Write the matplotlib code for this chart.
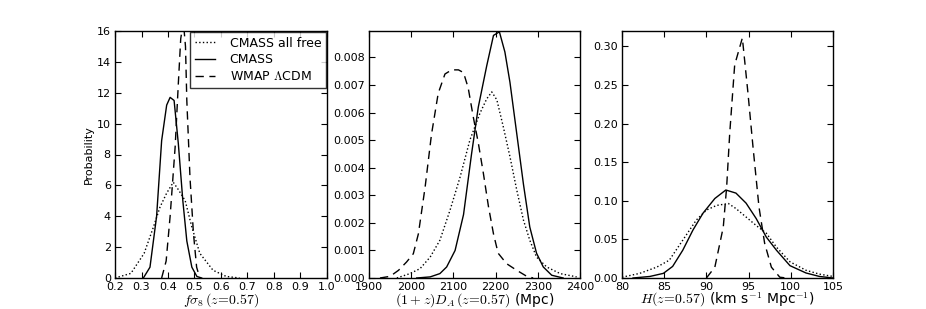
import numpy as np
import matplotlib
matplotlib.use("Agg")
import matplotlib.pyplot as plt

# ---------------------------------------------------------------------------
# Data (piecewise posterior curves)
# ---------------------------------------------------------------------------
fs8_free_x = [0.20, 0.26, 0.31, 0.345, 0.37, 0.395, 0.42, 0.44, 0.465, 0.49, 0.52, 0.57, 0.62, 0.67]
fs8_free_y = [0.0, 0.3, 1.6, 3.3, 4.6, 5.5, 6.2, 5.7, 5.0, 3.3, 1.6, 0.5, 0.1, 0.0]
fs8_cmass_x = [0.307, 0.332, 0.357, 0.376, 0.395, 0.408, 0.423, 0.439, 0.456, 0.471, 0.49, 0.509, 0.527]
fs8_cmass_y = [0.0, 0.7, 4.0, 8.9, 11.2, 11.7, 11.5, 8.7, 5.0, 2.4, 0.7, 0.1, 0.0]
fs8_wmap_x = [0.376, 0.393, 0.408, 0.427, 0.439, 0.448, 0.458, 0.466, 0.471, 0.483, 0.496, 0.508, 0.52]
fs8_wmap_y = [0.0, 1.1, 4.0, 8.5, 12.6, 15.5, 16.6, 15.0, 11.5, 6.5, 2.9, 0.7, 0.0]

da_free_x = [1966, 1997, 2021, 2045, 2068, 2092, 2116, 2139, 2163, 2179, 2191, 2203, 2218, 2234,
             2250, 2266, 2281, 2297, 2321, 2353, 2392]
da_free_y = [0.0, 0.16, 0.34, 0.76, 1.37, 2.46, 3.67, 5.0, 5.98, 6.5, 6.75, 6.46, 5.5, 4.4,
             3.2, 2.1, 1.37, 0.76, 0.4, 0.16, 0.04]
da_cmass_x = [2013, 2045, 2068, 2084, 2104, 2124, 2143, 2159, 2179, 2195, 2209, 2222, 2234, 2250,
              2266, 2281, 2297, 2313, 2333, 2360]
da_cmass_y = [0.0, 0.04, 0.16, 0.4, 1.0, 2.3, 4.5, 6.2, 7.7, 8.8, 8.93, 8.2, 7.1, 5.25,
              3.4, 1.85, 0.9, 0.4, 0.1, 0.0]
da_wmap_x = [1926, 1950, 1970, 1989, 2005, 2017, 2033, 2048, 2064, 2080, 2096, 2112, 2124, 2135,
             2147, 2159, 2171, 2183, 2195, 2206, 2226, 2250, 2274, 2289]
da_wmap_y = [0.0, 0.06, 0.28, 0.58, 0.88, 1.6, 3.3, 5.2, 6.7, 7.4, 7.55, 7.55, 7.45, 6.9,
             5.85, 4.9, 3.8, 2.6, 1.6, 0.9, 0.52, 0.28, 0.06, 0.0]

h_free_x = [80.0, 82.1, 84.1, 85.6, 87.2, 88.8, 90.0, 91.2, 92.6, 93.5, 94.7, 95.9, 97.1, 98.3,
            99.9, 101.8, 103.4, 105.0]
h_free_y = [0.001, 0.006, 0.014, 0.023, 0.049, 0.075, 0.088, 0.094, 0.0965, 0.090, 0.079, 0.068,
            0.058, 0.040, 0.021, 0.010, 0.005, 0.002]
h_cmass_x = [81.3, 83.3, 84.9, 86.0, 87.2, 88.4, 89.6, 91.0, 92.3, 93.5, 94.7, 95.9, 97.1, 98.3,
             99.9, 101.8, 103.4, 105.0]
h_cmass_y = [0.0, 0.002, 0.006, 0.015, 0.036, 0.062, 0.084, 0.103, 0.114, 0.110, 0.097, 0.077,
             0.053, 0.036, 0.016, 0.0065, 0.002, 0.0]
h_wmap_x = [90.0, 91.0, 92.0, 92.4, 92.76, 93.35, 94.26, 94.93, 95.52, 96.23, 96.9, 97.7, 98.7, 99.5]
h_wmap_y = [0.0, 0.014, 0.066, 0.118, 0.187, 0.276, 0.311, 0.239, 0.170, 0.092, 0.045, 0.014, 0.001, 0.0]

LABELS = ["CMASS all free", "CMASS", r"WMAP $\Lambda$CDM"]
STYLES = [":", "-", (0, (6, 4))]

plt.rcParams.update({
    "font.family": "DejaVu Sans",
    "mathtext.fontset": "cm",
    "xtick.direction": "in",
    "ytick.direction": "in",
    "xtick.top": True,
    "ytick.right": True,
    "xtick.major.size": 4,
    "ytick.major.size": 4,
    "xtick.major.pad": 3,
    "ytick.major.pad": 3,
    "xtick.labelsize": 8,
    "ytick.labelsize": 8,
    "axes.linewidth": 1.0,
})

fig = plt.figure(figsize=(9.26, 3.09), dpi=100)
W, H = 926.0, 309.0
bottom, top = 278.0, 31.0
lefts = [(115, 327), (369, 580), (622, 833)]
axes = [fig.add_axes([l / W, 1 - bottom / H, (r - l) / W, (bottom - top) / H]) for l, r in lefts]

XLABEL_KW = dict(fontsize=10, labelpad=-1)

# Panel 1: f sigma_8
ax = axes[0]
for (x, y), ls, lab in zip([(fs8_free_x, fs8_free_y), (fs8_cmass_x, fs8_cmass_y), (fs8_wmap_x, fs8_wmap_y)],
                           STYLES, LABELS):
    ax.plot(x, y, color="black", ls=ls, lw=1.0, label=lab)
ax.set_xlim(0.2, 1.0)
ax.set_ylim(0, 16)
ax.set_xticks(np.arange(0.2, 1.01, 0.1))
ax.set_yticks(np.arange(0, 17, 2))
ax.set_xlabel(r"$f\sigma_8\,(z\!=\!0.57)$", **XLABEL_KW)
ax.set_ylabel("Probability", fontsize=8, labelpad=2)
leg = ax.legend(loc="upper right", fontsize=9, fancybox=False, handlelength=1.6,
                borderaxespad=0.05, labelspacing=0.3, borderpad=0.4, handletextpad=1.2)
leg.get_frame().set_edgecolor("black")
leg.get_frame().set_linewidth(1.0)

# Panel 2: (1+z) D_A
ax = axes[1]
for (x, y), ls in zip([(da_free_x, da_free_y), (da_cmass_x, da_cmass_y), (da_wmap_x, da_wmap_y)], STYLES):
    ax.plot(x, np.array(y) * 1e-3, color="black", ls=ls, lw=1.0)
ax.set_xlim(1900, 2400)
ax.set_ylim(0, 0.00896)
ax.set_xticks(np.arange(1900, 2401, 100))
ax.set_yticks(np.arange(0, 0.0081, 0.001))
ax.set_yticklabels([f"{v:.3f}" for v in np.arange(0, 0.0081, 0.001)])
ax.set_xlabel(r"$(1+z)D_A\,(z\!=\!0.57)$ (Mpc)", **XLABEL_KW)

# Panel 3: H(z)
ax = axes[2]
for (x, y), ls in zip([(h_free_x, h_free_y), (h_cmass_x, h_cmass_y), (h_wmap_x, h_wmap_y)], STYLES):
    ax.plot(x, y, color="black", ls=ls, lw=1.0)
ax.set_xlim(80, 105)
ax.set_ylim(0, 0.32)
ax.set_xticks(np.arange(80, 106, 5))
ax.set_yticks(np.arange(0, 0.31, 0.05))
ax.set_yticklabels([f"{v:.2f}" for v in np.arange(0, 0.31, 0.05)])
ax.set_xlabel(r"$H(z\!=\!0.57)$ (km s$^{-1}$ Mpc$^{-1}$)", **XLABEL_KW)

fig.savefig("out.png", dpi=100)
